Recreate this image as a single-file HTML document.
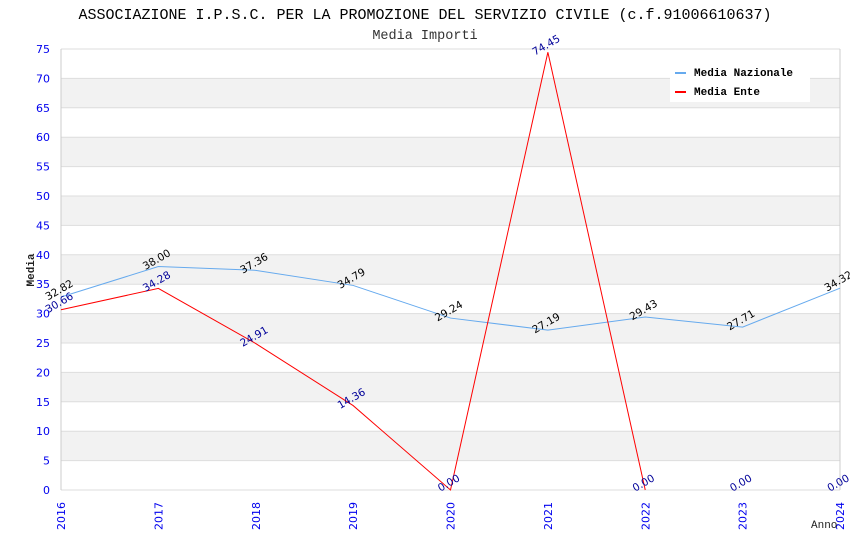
<!DOCTYPE html>
<html><head><meta charset="utf-8"><style>
body{margin:0;background:#fff}
svg{display:block;font-family:"DejaVu Sans","Liberation Sans",sans-serif}
</style></head><body>
<svg id="c" width="850" height="550"></svg>
<script>
const years=["2016","2017","2018","2019","2020","2021","2022","2023","2024"];
const nazionale=[32.82,38.00,37.36,34.79,29.24,27.19,29.43,27.71,34.32];
const ente=[30.66,34.28,24.91,14.36,0.00,74.45,0.00,null,null];
const enteLabels=[30.66,34.28,24.91,14.36,0.00,74.45,0.00,0.00,0.00];
const yTicks=[0,5,10,15,20,25,30,35,40,45,50,55,60,65,70,75];
const NS="http://www.w3.org/2000/svg";
const svg=document.getElementById('c');
const L=61,R=840,T=49,B=490;
const x=i=>L+(R-L)*i/(years.length-1);
const y=v=>B-(B-T)*v/75;
function mk(tag,attrs,parent){const e=document.createElementNS(NS,tag);for(const k in attrs)e.setAttribute(k,attrs[k]);(parent||svg).appendChild(e);return e;}
for(let v=5;v<75;v+=10){const r=mk('rect',{x:L,y:y(v+5),width:R-L,height:y(v)-y(v+5),fill:'#f2f2f2'});

}
yTicks.forEach(v=>{const g=mk('line',{x1:L,x2:R,y1:y(v),y2:y(v),stroke:'#dddddd'});


const t=mk('text',{x:50,y:y(v)+4,'text-anchor':'end','font-size':11,fill:'#0000ee'});t.textContent=v;

});
mk('line',{x1:L,x2:L,y1:T,y2:B,stroke:'#ccc'});
mk('line',{x1:R,x2:R,y1:T,y2:B,stroke:'#ccc'});
years.forEach((yr,i)=>{const t=mk('text',{transform:`translate(${x(i)+4},${B+40}) rotate(-90)`,'font-size':11,fill:'#0000ee'});t.textContent=yr;

});
function line(vals,color,name){let p=[];vals.forEach((v,i)=>{if(v!==null)p.push(x(i)+','+y(v));});
const e=mk('polyline',{points:p.join(' '),fill:'none',stroke:color,'stroke-width':1});

}
line(nazionale,'#66aaee','line-media-nazionale');
line(ente,'#ff0000','line-media-ente');
function labels(vals,color,name){vals.forEach((v,i)=>{const t=mk('text',{transform:`translate(${x(i)},${y(v)-4}) rotate(-30)`,'text-anchor':'middle','font-size':10.5,fill:color});t.textContent=v.toFixed(2);

});}
labels(nazionale,'#000','label-nazionale');
labels(enteLabels,'#000099','label-ente');
const tt=mk('text',{x:425,y:19,'text-anchor':'middle','font-size':15,'font-family':'Liberation Mono,monospace',fill:'#000'});tt.textContent='ASSOCIAZIONE I.P.S.C. PER LA PROMOZIONE DEL SERVIZIO CIVILE (c.f.91006610637)';


const st=mk('text',{x:425,y:39,'text-anchor':'middle','font-size':13.5,'font-family':'Liberation Mono,monospace',fill:'#333'});st.textContent='Media Importi';


const ya=mk('text',{transform:'translate(34,270) rotate(-90)','text-anchor':'middle','font-size':11,'font-weight':'bold','font-family':'Liberation Mono,monospace',fill:'#222'});ya.textContent='Media';


const xa=mk('text',{x:811,y:528,'font-size':11,'font-family':'Liberation Mono,monospace',fill:'#222'});xa.textContent='Anno';


const lg=mk('g',{});


mk('rect',{x:670,y:58,width:140,height:44,fill:'#fff'},lg);
[['Media Nazionale','#66aaee',72],['Media Ente','#ff0000',91]].forEach(([n,c,yy])=>{
mk('rect',{x:675,y:yy,width:11,height:2,fill:c},lg);
const t=mk('text',{x:694,y:yy+4,'font-size':11,'font-weight':'bold','font-family':'Liberation Mono,monospace',fill:'#000'},lg);t.textContent=n;

});
</script>
</body></html>
